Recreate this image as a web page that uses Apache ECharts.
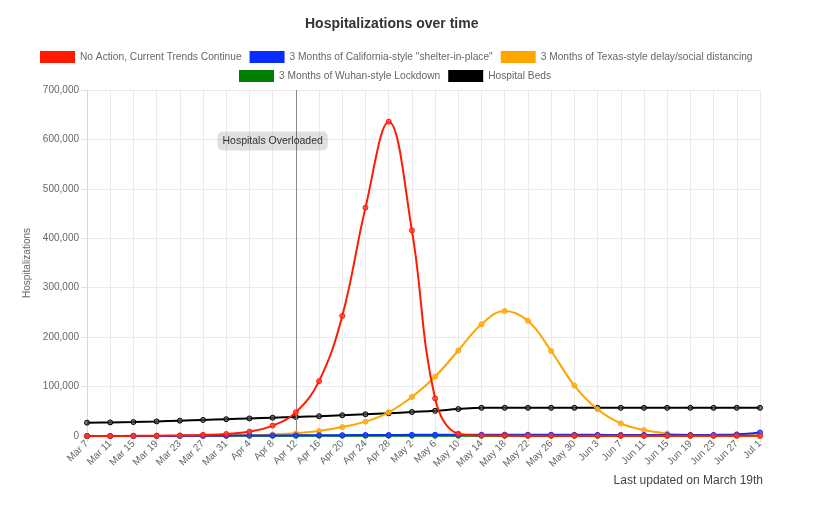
<!DOCTYPE html>
<html>
<head>
<meta charset="utf-8">
<script src="https://cdn.jsdelivr.net/npm/echarts@6/dist/echarts.min.js"></script>
<style>html,body{margin:0;padding:0;background:#fff}#c{width:830px;height:508px}</style>
</head>
<body>
<div id="c"></div>
<script>
var categories = ['Mar 7','Mar 11','Mar 15','Mar 19','Mar 23','Mar 27','Mar 31','Apr 4','Apr 8','Apr 12','Apr 16','Apr 20','Apr 24','Apr 28','May 2','May 6','May 10','May 14','May 18','May 22','May 26','May 30','Jun 3','Jun 7','Jun 11','Jun 15','Jun 19','Jun 23','Jun 27','Jul 1'];
var noAction = [0,100,300,600,1200,2200,4000,9000,21000,48000,111000,243000,462000,636000,416000,76000,4500,1000,800,700,600,600,600,600,600,600,600,600,600,600];
var california = [0,50,100,200,300,500,700,900,1100,1300,1500,1700,1900,2100,2300,2400,2500,2600,2600,2600,2500,2400,2300,2200,2100,2000,2000,2200,3200,7000];
var texas = [0,50,100,200,300,500,800,1500,3000,5500,10000,18000,29000,48000,79000,120000,173000,226000,253000,233000,172000,102000,54000,25500,12000,5000,2000,1000,800,700];
var wuhan = [0,50,100,150,200,300,400,500,500,500,500,500,500,500,500,500,500,500,500,500,500,500,500,500,500,500,500,500,500,500];
var hospitalBeds = [27000,27500,28200,29500,31000,32500,34000,35500,37000,38500,40000,42000,44000,46000,48500,51000,54500,57000,57000,57000,57000,57000,57000,57000,57000,57000,57000,57000,57000,57000];
var yTicks = [0,100000,200000,300000,400000,500000,600000,700000];

var seriesDefs = [
  {name:'No Action, Current Trends Continue', data:noAction, color:'#ff1a00', fill:'rgba(255,60,60,0.75)', z:10},
  {name:'3 Months of California-style "shelter-in-place"', data:california, color:'#0a2cff', fill:'rgba(40,70,255,0.75)', z:8},
  {name:'3 Months of Texas-style delay/social distancing', data:texas, color:'#ffa500', fill:'rgba(255,170,40,0.75)', z:6},
  {name:'3 Months of Wuhan-style Lockdown', data:wuhan, color:'#008000', fill:'rgba(0,128,0,0.6)', z:4},
  {name:'Hospital Beds', data:hospitalBeds, color:'#000000', fill:'rgba(80,80,80,0.7)', z:2}
];

var FONT = 'Liberation Sans, Arial, sans-serif';
var chart = echarts.init(document.getElementById('c'), null, {renderer:'canvas'});
var series = seriesDefs.map(function(s, i){
  var o = {
    name: s.name, type:'line', data: s.data, smooth: 0.4, z: s.z,
    symbol:'circle', symbolSize:5, showSymbol:true,
    lineStyle:{color:s.color, width:2},
    itemStyle:{color:s.fill, borderColor:s.color, borderWidth:1},
    emphasis:{disabled:true}
  };
  if (i === 0) {
    o.markLine = {
      silent:true, symbol:['none','none'],
      lineStyle:{color:'#8a8a8a', width:1, type:'solid'},
      label:{show:false},
      data:[{xAxis:'Apr 12'}]
    };
    o.markPoint = {
      silent:true, symbol:'rect', symbolSize:[1,1],
      itemStyle:{color:'rgba(0,0,0,0)'},
      label:{show:true, formatter:'Hospitals Overloaded', color:'#333', fontSize:10.5,
        fontFamily:FONT,
        backgroundColor:'rgba(0,0,0,0.12)', borderRadius:5, padding:[4,5,4,5]},
      data:[{coord:['Apr 8', 597000]}]
    };
  }
  return o;
});

function legendItems(from, to){
  return seriesDefs.slice(from, to).map(function(s){return {name:s.name, itemStyle:{color:s.color, borderWidth:0}};});
}
var legendBase = {itemWidth:35, itemHeight:12, itemGap:8, icon:'rect', orient:'horizontal',
  textStyle:{color:'#666', fontSize:10.2}};

chart.setOption({
  animation:false,
  textStyle:{fontFamily:FONT},
  title:[
    {text:'Hospitalizations over time', left:300, top:12,
     textStyle:{fontSize:14, fontWeight:'bold', color:'#333', fontFamily:FONT}},
    {text:'Last updated on March 19th', right:62, bottom:16,
     textStyle:{fontSize:12, fontWeight:'normal', color:'#444', fontFamily:FONT}}
  ],
  legend:[
    Object.assign({}, legendBase, {top:46, left:35, data:legendItems(0,3)}),
    Object.assign({}, legendBase, {top:65, left:234, data:legendItems(3,5)})
  ],
  grid:{left:87, right:70, top:90, bottom:72, containLabel:false},
  xAxis:{
    type:'category', data:categories, boundaryGap:false,
    axisLine:{lineStyle:{color:'#d9d9d9'}},
    axisTick:{show:true, alignWithLabel:true, length:6, lineStyle:{color:'#e0e0e0'}},
    axisLabel:{rotate:45, interval:0, color:'#666', fontSize:10, margin:6},
    splitLine:{show:true, lineStyle:{color:'#ebebeb'}}
  },
  yAxis:{
    type:'value', min:0, max:700000, interval:100000,
    name:'Hospitalizations', nameLocation:'middle', nameGap:47, nameRotate:90,
    nameTextStyle:{color:'#666', fontSize:10},
    axisLine:{show:true, lineStyle:{color:'#d9d9d9'}},
    axisTick:{show:true, length:6, lineStyle:{color:'#e0e0e0'}},
    axisLabel:{color:'#666', fontSize:10, margin:8,
      formatter:function(v){ return yTicks.indexOf(v) >= 0 ? v.toLocaleString('en-US') : ''; }},
    splitLine:{show:true, lineStyle:{color:'#ebebeb'}}
  },
  series: series
});
</script>
</body>
</html>
